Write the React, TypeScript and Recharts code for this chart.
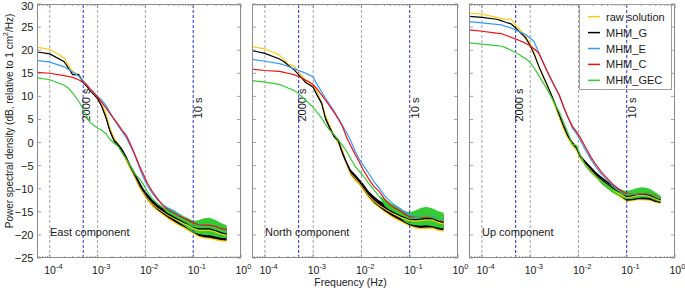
import React from 'react';
import { ComposedChart, Line, Area, XAxis, YAxis, ReferenceLine } from 'recharts';

// frequency grid (Hz) shared by every curve
const freqs = [5.5e-5, 1e-4, 2e-4, 2.5e-4, 3e-4, 4e-4, 5e-4, 6e-4, 7e-4, 8e-4, 1e-3, 1.2e-3, 1.5e-3, 1.8e-3, 2.2e-3, 2.7e-3, 3.3e-3, 4e-3, 5e-3, 6e-3, 7.5e-3, 9e-3, 1.1e-2, 1.4e-2, 1.8e-2, 2.3e-2, 3e-2, 4e-2, 5e-2, 6.5e-2, 8e-2, 0.1, 0.13, 0.17, 0.22, 0.3, 0.38, 0.5];

// East component (dB)
const eastRaw = [20.6, 20.2, 18.3, 16.6, 15.4, 14.8, 13.4, 12.5, 11.3, 10.6, 9.5, 8.3, 6.2, 3.1, 0.9, -0.6, -2.1, -3.7, -5.8, -7.3, -9.3, -10.7, -12.0, -13.3, -14.2, -15.0, -15.8, -16.5, -17.0, -17.6, -18.0, -18.6, -19.0, -19.0, -19.0, -19.4, -19.8, -20.1];
const eastG = [19.6, 19.2, 17.5, 16.0, 14.7, 14.7, 13.0, 12.1, 11.2, 10.6, 9.5, 8.0, 5.4, 2.6, 0.5, -0.5, -1.8, -3.4, -5.5, -7.0, -9.0, -10.4, -11.7, -13.0, -13.9, -14.7, -15.5, -16.2, -16.7, -17.3, -17.7, -18.3, -18.7, -18.7, -18.7, -19.1, -19.5, -19.8];
const eastE = [17.8, 17.4, 16.4, 15.8, 15.3, 14.4, 13.4, 12.4, 11.4, 10.8, 10.0, 9.3, 8.0, 6.6, 5.0, 3.6, 2.3, 1.0, -1.0, -2.7, -5.4, -7.5, -9.3, -11.0, -12.4, -13.4, -14.2, -14.9, -15.7, -16.4, -16.9, -17.4, -17.8, -17.9, -17.9, -18.2, -18.6, -18.9];
const eastC = [15.2, 15.0, 14.5, 14.3, 14.1, 13.6, 13.0, 12.4, 11.6, 11.0, 9.9, 8.8, 7.5, 6.3, 5.2, 3.9, 2.6, 1.5, -0.6, -2.6, -5.0, -6.8, -8.8, -10.6, -12.2, -13.6, -14.6, -15.3, -15.9, -16.4, -16.9, -17.4, -17.8, -17.9, -17.9, -18.2, -18.6, -18.9];
const eastGec = [14.0, 13.6, 12.4, 11.7, 10.7, 9.0, 7.2, 5.6, 4.3, 3.9, 3.1, 2.7, 1.9, 0.7, -0.1, -0.9, -2.3, -3.6, -5.3, -6.8, -7.8, -9.0, -10.6, -12.2, -13.3, -14.1, -14.9, -15.6, -16.3, -17.0, -17.6, -18.2, -18.3, -18.2, -18.2, -18.6, -19.0, -19.3];
const eastSpread = [0, 0, 0, 0, 0, 0, 0, 0, 0, 0, 0, 0.2, 0.3, 0.3, 0.4, 0.3, 0.4, 0.5, 0.4, 0.5, 0.6, 0.5, 0.6, 0.6, 0.7, 0.7, 0.8, 0.9, 1.0, 1.0, 1.2, 1.2, 1.5, 1.8, 1.9, 1.8, 1.6, 1.4];

// North component (dB)
const northRaw = [20.8, 20.3, 18.9, 18.0, 17.0, 16.6, 15.4, 14.3, 13.5, 13.0, 12.0, 11.0, 8.4, 5.8, 3.5, 1.6, 0.0, -1.6, -4.8, -6.7, -7.8, -8.7, -9.9, -11.4, -12.6, -13.5, -14.3, -15.1, -15.6, -16.2, -16.5, -16.9, -17.0, -16.9, -16.7, -16.8, -17.3, -17.6];
const northG = [19.9, 19.3, 18.1, 17.5, 16.8, 15.8, 14.7, 13.8, 13.0, 12.6, 12.0, 10.3, 8.5, 5.2, 3.2, 1.4, 0.4, -2.1, -4.6, -6.4, -7.5, -8.4, -9.6, -11.1, -12.3, -13.2, -14.0, -14.8, -15.3, -15.9, -16.2, -16.6, -16.7, -16.6, -16.4, -16.5, -17.0, -17.3];
const northE = [18.0, 17.6, 17.1, 16.8, 16.5, 16.0, 15.6, 15.3, 15.0, 14.7, 14.2, 12.6, 11.0, 9.6, 8.2, 6.8, 5.3, 3.8, 2.0, 0.4, -2.0, -3.6, -5.0, -6.6, -8.4, -9.8, -11.5, -12.8, -13.6, -14.4, -15.1, -15.8, -16.0, -16.0, -15.9, -16.0, -16.5, -16.9];
const northC = [15.9, 15.6, 15.4, 15.2, 15.0, 14.7, 14.3, 13.9, 13.5, 13.2, 12.5, 11.6, 10.3, 9.2, 7.9, 6.6, 5.1, 3.6, 1.0, -0.7, -2.7, -4.2, -6.0, -7.8, -9.5, -10.5, -12.2, -13.6, -14.2, -14.9, -15.5, -16.1, -16.2, -16.2, -16.1, -16.2, -16.7, -17.0];
const northGec = [13.4, 13.1, 12.6, 12.2, 11.8, 11.3, 10.6, 9.8, 9.1, 8.6, 7.6, 6.6, 5.3, 3.9, 2.7, 1.7, 0.6, -0.5, -2.0, -3.5, -5.2, -6.2, -7.3, -8.8, -10.2, -11.6, -12.9, -14.0, -14.7, -15.4, -16.0, -16.4, -16.3, -16.1, -15.9, -16.2, -16.6, -16.9];
const northSpread = [0, 0, 0, 0, 0, 0, 0, 0, 0, 0, 0, 0.2, 0.3, 0.3, 0.4, 0.3, 0.4, 0.5, 0.4, 0.5, 0.6, 0.5, 0.6, 0.6, 0.7, 0.7, 0.8, 0.9, 1.0, 1.0, 1.2, 1.3, 1.6, 1.9, 2.0, 1.9, 1.8, 1.7];

// Up component (dB)
const upRaw = [28.0, 27.8, 27.1, 26.9, 26.6, 26.8, 25.3, 24.6, 23.7, 23.0, 21.4, 19.5, 16.5, 14.5, 12.5, 10.2, 7.8, 5.5, 2.8, 1.1, -0.5, -1.4, -3.4, -4.7, -6.0, -7.2, -8.3, -9.3, -10.1, -10.9, -11.4, -11.9, -11.7, -11.4, -11.4, -11.6, -12.1, -12.6];
const upG = [27.3, 27.1, 26.7, 26.4, 26.1, 25.7, 24.8, 24.0, 23.3, 22.7, 21.0, 19.2, 16.6, 14.7, 12.7, 10.5, 8.3, 6.0, 3.4, 1.5, -0.2, -1.1, -3.1, -4.4, -5.7, -6.9, -8.0, -9.0, -9.8, -10.6, -11.1, -11.7, -11.5, -11.2, -11.2, -11.4, -11.9, -12.4];
const upE = [26.2, 25.9, 25.6, 25.5, 25.2, 24.8, 24.4, 24.0, 23.7, 23.4, 22.6, 21.9, 19.5, 17.7, 15.7, 13.8, 12.0, 10.2, 7.5, 5.5, 3.1, 2.0, 0.4, -1.6, -3.6, -5.3, -6.9, -8.2, -9.2, -10.1, -10.8, -11.3, -11.3, -11.1, -11.0, -11.1, -11.6, -12.2];
const upC = [24.4, 24.1, 23.7, 23.6, 23.3, 22.8, 22.4, 22.1, 21.8, 21.5, 20.9, 20.3, 19.4, 17.6, 15.6, 13.7, 11.9, 10.3, 7.6, 5.6, 3.5, 2.4, 1.0, -1.0, -3.1, -4.8, -6.4, -7.8, -8.9, -9.9, -10.6, -11.1, -11.2, -11.0, -10.9, -11.0, -11.5, -12.1];
const upGec = [21.6, 21.3, 21.0, 20.9, 20.6, 20.0, 19.5, 19.0, 18.5, 18.2, 17.3, 16.2, 14.6, 13.2, 11.7, 10.0, 8.2, 6.6, 4.2, 2.2, -0.4, -0.6, -2.8, -5.0, -6.4, -7.4, -8.4, -9.4, -10.1, -10.7, -11.1, -11.4, -11.2, -10.9, -10.8, -11.0, -11.6, -12.2];
const upSpread = [0, 0, 0, 0, 0, 0, 0, 0, 0, 0, 0, 0, 0, 0, 0, 0.2, 0.2, 0.3, 0.3, 0.3, 0.4, 0.3, 0.4, 0.4, 0.5, 0.5, 0.6, 0.6, 0.7, 0.7, 0.8, 0.9, 1.0, 1.1, 1.1, 1.0, 0.9, 0.7];

// axis ticks
const majorTicks = [1e-4, 1e-3, 1e-2, 1e-1, 1];
const minorSteps = [2, 3, 4, 5, 6, 7, 8, 9];
const yTicks = [-25, -20, -15, -10, -5, 0, 5, 10, 15, 20, 25, 30];
const grayLines = [1e-4, 1e-3, 1e-2];
const blueLines = [
  { f: 5e-4, text: '2000 s', dx: 3, cy: 105 },
  { f: 0.1, text: '10 s', dx: 5, cy: 108 },
];

const xTicks = [6e-5, 7e-5, 8e-5, 9e-5, ...majorTicks, ...majorTicks.slice(0, 4).flatMap((m) => minorSteps.map((s) => m * s))].sort((a, b) => a - b);

const series = [
  { key: 'raw', name: 'raw solution', color: '#ffcc11' },
  { key: 'g', name: 'MHM_G', color: '#000000' },
  { key: 'e', name: 'MHM_E', color: '#3399ff' },
  { key: 'c', name: 'MHM_C', color: '#ee1111' },
  { key: 'gec', name: 'MHM_GEC', color: '#33cc33' },
];

const panels = [
  { title: 'East component', left: 37, right: 241, showY: true, raw: eastRaw, g: eastG, e: eastE, c: eastC, gec: eastGec, spread: eastSpread },
  { title: 'North component', left: 252, right: 458, showY: false, raw: northRaw, g: northG, e: northE, c: northC, gec: northGec, spread: northSpread },
  { title: 'Up component', left: 469, right: 675, showY: false, raw: upRaw, g: upG, e: upE, c: upC, gec: upGec, spread: upSpread },
];

const W = 685;
const H = 288;
const TOP = 4;
const BOTTOM = 258;
const GEC_BAND_START = 26;
const AXIS = '#8c8c8c';
const TEXT = '#1a1a1a';
const FONT = '"Liberation Sans", Arial, sans-serif';

const colorOf = (k: string) => series.find((s) => s.key === k)!.color;

function XTick(props: any) {
  const { x, payload } = props;
  const lg = Math.log10(payload.value);
  const exp = Math.round(lg);
  const major = Math.abs(lg - exp) < 1e-6;
  const len = major ? 4 : 2;
  return (
    <g>
      <line x1={x} y1={BOTTOM} x2={x} y2={BOTTOM - len} stroke={AXIS} strokeWidth={0.8} />
      <line x1={x} y1={TOP} x2={x} y2={TOP + len} stroke={AXIS} strokeWidth={0.8} />
      {major && (
        <text x={x - 5.5} y={274} fontSize={10.5} fill={TEXT} fontFamily={FONT}>
          10<tspan dy={-5} fontSize={7.5}>{String(exp)}</tspan>
        </text>
      )}
    </g>
  );
}

const makeYTick = (left: number, right: number, showLabel: boolean) => (props: any) => {
  const { y, payload } = props;
  const v = payload.value as number;
  return (
    <g>
      <line x1={left} y1={y} x2={left + 4} y2={y} stroke={AXIS} strokeWidth={0.8} />
      <line x1={right} y1={y} x2={right - 4} y2={y} stroke={AXIS} strokeWidth={0.8} />
      {showLabel && (
        <text x={left - 3.5} y={Math.max(y + 4, 10)} textAnchor="end" fontSize={11} fill={TEXT} fontFamily={FONT}>
          {v < 0 ? '\u2212' + Math.abs(v) : String(v)}
        </text>
      )}
    </g>
  );
};

const vLabel = (text: string, dx: number, cy: number) => (props: any) => {
  const x = props.viewBox.x + dx;
  return (
    <text x={x} y={cy} transform={`rotate(-90 ${x} ${cy})`} textAnchor="middle" dominantBaseline="central" fontSize={11} fill={TEXT} fontFamily={FONT}>
      {text}
    </text>
  );
};

function Panel({ p }: { p: (typeof panels)[number] }) {
  const rows = freqs.map((f, i) => ({
    f,
    raw: p.raw[i],
    g: p.g[i],
    e: p.e[i],
    c: p.c[i],
    gec: p.gec[i],
    rawBand: [p.raw[i] - p.spread[i], p.raw[i] + p.spread[i]],
    gBand: [p.g[i] - p.spread[i], p.g[i] + p.spread[i]],
    gecBand: i >= GEC_BAND_START ? [p.gec[i] - p.spread[i], p.gec[i] + p.spread[i]] : [p.gec[i], p.gec[i]],
  }));

  const line = (k: string) => (
    <Line key={k} dataKey={k} type="linear" stroke={colorOf(k)} strokeWidth={1.2} dot={false} activeDot={false} isAnimationActive={false} />
  );
  const band = (k: string, c: string) => (
    <Area key={k} dataKey={k} type="linear" stroke="none" fill={colorOf(c)} fillOpacity={1} dot={false} activeDot={false} legendType="none" isAnimationActive={false} />
  );

  return (
    <div style={{ position: 'absolute', left: 0, top: 0 }}>
      <ComposedChart width={W} height={H} data={rows} margin={{ top: TOP, right: W - p.right, bottom: H - BOTTOM - 1, left: p.left - 1 }}>
        <XAxis dataKey="f" type="number" scale="log" domain={[5.4e-5, 1]} allowDataOverflow ticks={xTicks} interval={0} height={1} tickSize={0} tickMargin={0} axisLine={false} tickLine={false} tick={XTick} />
        <YAxis type="number" domain={[-25, 30]} allowDataOverflow ticks={yTicks} interval={0} width={1} tickSize={0} tickMargin={0} axisLine={false} tickLine={false} tick={makeYTick(p.left, p.right, p.showY)} />
        {grayLines.map((f) => (
          <ReferenceLine key={f} x={f} stroke="#8a8a8a" strokeDasharray="3 2" strokeWidth={0.8} />
        ))}
        {blueLines.map((b) => (
          <ReferenceLine key={b.f} x={b.f} stroke="#2b2bdd" strokeDasharray="3 2" strokeWidth={1} label={vLabel(b.text, b.dx, b.cy)} />
        ))}
        {band('rawBand', 'raw')}
        {line('raw')}
        {band('gBand', 'g')}
        {line('g')}
        {line('e')}
        {line('c')}
        {band('gecBand', 'gec')}
        {line('gec')}
      </ComposedChart>
    </div>
  );
}

export default function App() {
  return (
    <div style={{ position: 'absolute', left: 0, top: 0, width: W, height: H, background: '#fff', overflow: 'hidden', fontFamily: FONT }}>
      {panels.map((p) => (
        <Panel key={p.title} p={p} />
      ))}
      <svg width={W} height={H} style={{ position: 'absolute', left: 0, top: 0, pointerEvents: 'none' }}>
        {panels.map((p) => (
          <g key={p.title}>
            <rect x={p.left + 0.5} y={TOP + 0.5} width={p.right - p.left - 1} height={BOTTOM - TOP - 1} fill="none" stroke={AXIS} strokeWidth={1} />
            <text x={p.left + 13} y={236} fontSize={11} fill={TEXT} fontFamily={FONT}>
              {p.title}
            </text>
          </g>
        ))}
        <text x={9} y={121} transform="rotate(-90 9 121)" textAnchor="middle" dominantBaseline="central" fontSize={10} fill={TEXT} fontFamily={FONT}>
          Power spectral density (dB, relative to 1 cm<tspan dy={-4} fontSize={7}>2</tspan>
          <tspan dy={4}>/Hz)</tspan>
        </text>
        <text x={350.5} y={285.5} textAnchor="middle" fontSize={10.5} fill={TEXT} fontFamily={FONT}>
          Frequency (Hz)
        </text>
        <g>
          <rect x={579.5} y={4.5} width={92} height={85} fill="none" stroke="#a0a0a0" strokeWidth={1} />
          {series.map((s, i) => {
            const cy = 16.7 + i * 15.9;
            return (
              <g key={s.key}>
                <line x1={588} y1={cy} x2={600} y2={cy} stroke={s.color} strokeWidth={1.5} />
                <text x={606} y={cy + 4} fontSize={11} fill={TEXT} fontFamily={FONT}>
                  {s.name}
                </text>
              </g>
            );
          })}
        </g>
      </svg>
    </div>
  );
}
